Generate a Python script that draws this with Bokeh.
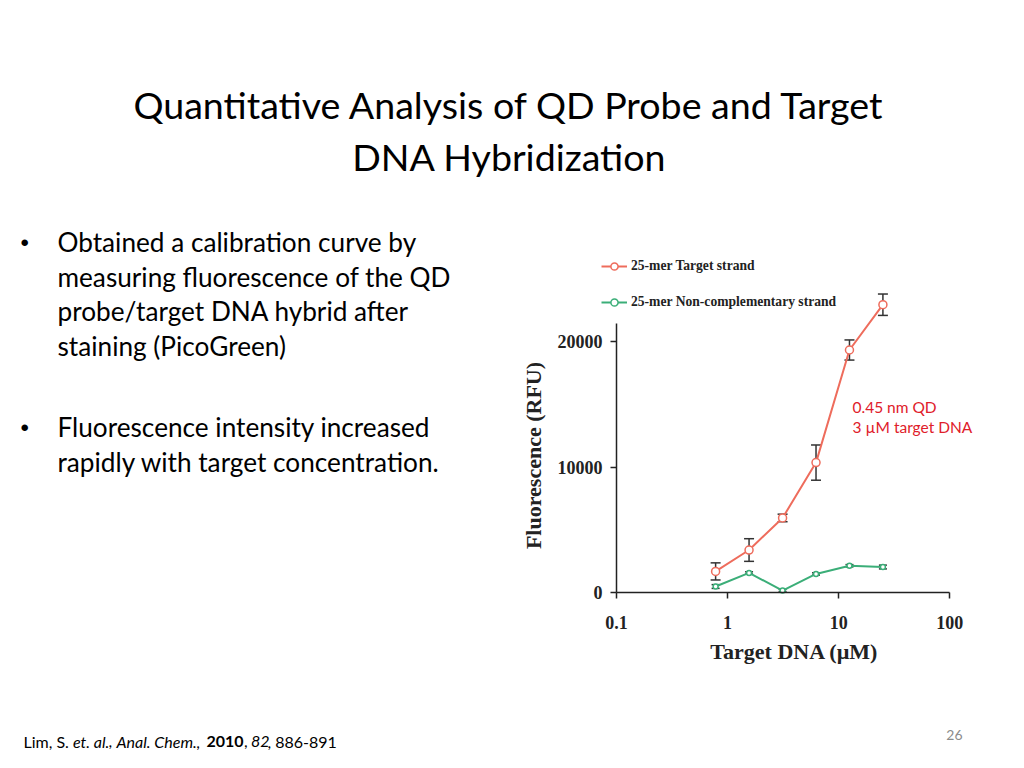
from bokeh.plotting import figure
from bokeh.models import (Label, Legend, LegendItem, Whisker, TeeHead, ColumnDataSource,
                          Range1d, FixedTicker, NumeralTickFormatter, BasicTickFormatter)
from bokeh.embed import file_html
from bokeh.resources import INLINE
import math

# ---------------- data ----------------
conc_uM = [0.78, 1.56, 3.125, 6.25, 12.5, 25.0]
target_rfu = [1700, 3400, 5950, 10350, 19300, 22900]
target_err = [680, 900, 300, 1400, 800, 850]
noncomp_rfu = [500, 1580, 180, 1500, 2150, 2050]
noncomp_err = [150, 90, 90, 90, 90, 150]
x_ticks = [0.1, 1, 10, 100]
y_ticks = [0, 10000, 20000]

title_lines = ["Quantitative Analysis of QD Probe and Target", "DNA Hybridization"]
bullet1 = ["Obtained a calibration curve by", "measuring fluorescence of the QD",
           "probe/target DNA hybrid after", "staining (PicoGreen)"]
bullet2 = ["Fluorescence intensity increased", "rapidly with target concentration."]
note_lines = ["0.45 nm QD", "3 \u00b5M target DNA"]

RED = "#EE6C5C"
GREEN = "#3BAE78"
DARK = "#222222"

# ---------------- layout geometry (pixels) ----------------
W, H = 1008, 752
X0_PX, DECADE_PX = 616.0, 111.1      # pixel of x=0.1, pixels per decade
Y0_PX, PX_PER_UNIT = 592.3, 0.01258  # pixel of y=0, pixels per RFU

x_lo = 10 ** (-1 - X0_PX / DECADE_PX)
x_hi = 10 ** (-1 + (W - X0_PX) / DECADE_PX)
y_lo = -(H - Y0_PX) / PX_PER_UNIT
y_hi = Y0_PX / PX_PER_UNIT

p = figure(width=W, height=H, x_axis_type="log",
           x_range=Range1d(x_lo, x_hi), y_range=Range1d(y_lo, y_hi),
           output_backend="svg", toolbar_location=None,
           min_border_left=0, min_border_right=0, min_border_top=0, min_border_bottom=0)
p.grid.visible = False
p.outline_line_color = None
p.background_fill_color = "white"
p.border_fill_color = "white"

for ax in (p.xaxis[0], p.yaxis[0]):
    ax.axis_line_color = DARK
    ax.axis_line_width = 1.5
    ax.major_tick_line_color = DARK
    ax.major_tick_line_width = 1.5
    ax.major_tick_out = 6
    ax.major_tick_in = 0
    ax.minor_tick_line_color = None
    ax.major_label_text_font = "Liberation Serif"
    ax.major_label_text_font_style = "bold"
    ax.major_label_text_font_size = "18px"
    ax.major_label_text_color = DARK

p.xaxis.ticker = FixedTicker(ticks=x_ticks)
p.xaxis.formatter = NumeralTickFormatter(format="0.[0]")
p.xaxis.major_label_standoff = 17
p.xaxis.bounds = (0.1, 100)
p.xaxis.fixed_location = 0
p.yaxis.ticker = FixedTicker(ticks=y_ticks)
p.yaxis.formatter = BasicTickFormatter(use_scientific=False)
p.yaxis.major_label_standoff = 8
p.yaxis.bounds = (0, 21400)
p.yaxis.fixed_location = 0.1

# error bars
t_src = ColumnDataSource(dict(x=conc_uM,
                              upper=[v + e for v, e in zip(target_rfu, target_err)],
                              lower=[v - e for v, e in zip(target_rfu, target_err)]))
n_src = ColumnDataSource(dict(x=conc_uM,
                              upper=[v + e for v, e in zip(noncomp_rfu, noncomp_err)],
                              lower=[v - e for v, e in zip(noncomp_rfu, noncomp_err)]))
for src, hs in ((t_src, 10), (n_src, 8)):
    w = Whisker(source=src, base="x", upper="upper", lower="lower", dimension="height",
                line_color="#333333", line_width=1.5,
                upper_head=TeeHead(size=hs, line_color="#333333", line_width=1.5),
                lower_head=TeeHead(size=hs, line_color="#333333", line_width=1.5))
    p.add_layout(w)

rl = p.line(conc_uM, target_rfu, line_color=RED, line_width=2)
rs = p.scatter(conc_uM, target_rfu, marker="circle", size=8, fill_color="white",
               line_color=RED, line_width=1.5)
gl = p.line(conc_uM, noncomp_rfu, line_color=GREEN, line_width=2)
gs = p.scatter(conc_uM, noncomp_rfu, marker="circle", size=5, fill_color="white",
               line_color=GREEN, line_width=1.5)

legend = Legend(items=[LegendItem(label="25-mer Target strand", renderers=[rl, rs]),
                       LegendItem(label="25-mer Non-complementary strand", renderers=[gl, gs])],
                location=(601, H - 311), padding=0, margin=0, spacing=18,
                glyph_width=26, glyph_height=18, label_height=18, label_standoff=4,
                border_line_color=None, background_fill_alpha=0,
                label_text_font="Liberation Serif", label_text_font_style="bold",
                label_text_font_size="13.6px", label_text_color=DARK)
p.add_layout(legend)


def add_text(txt, X, Y, size, font="Lato", style="normal", color="#000000",
             align="left", angle=0.0):
    p.add_layout(Label(x=X, y=H - Y, x_units="screen", y_units="screen",
                       text=txt, text_font=font, text_font_size=f"{size}px",
                       text_font_style=style, text_color=color, text_align=align,
                       text_baseline="alphabetic", angle=angle))


# axis titles
add_text("Target DNA (\u00b5M)", 794, 651, 22, font="Liberation Serif", style="bold",
         color=DARK, align="center")
add_text("Fluorescence (RFU)", 533, 455, 22, font="Liberation Serif", style="bold",
         color=DARK, align="center", angle=math.pi / 2)

# annotation
for i, t in enumerate(note_lines):
    add_text(t, 852, 406 + 20 * i, 15.5, color="#E0202A")

# slide title
for i, t in enumerate(title_lines):
    add_text(t, 509, 104 + 51.5 * i, 37.6, align="center")

# bullets
add_text("\u2022", 20, 241.5, 24, font="Liberation Sans")
for i, t in enumerate(bullet1):
    add_text(t, 57, 241.5 + 34.6 * i, 26.2)
add_text("\u2022", 20, 426.5, 24, font="Liberation Sans")
for i, t in enumerate(bullet2):
    add_text(t, 57, 426.5 + 34.6 * i, 26.2)

# footer citation
for txt, X, st in [("Lim, S.", 23, "normal"), ("et. al.", 72.5, "italic"),
                   (",", 108, "normal"), ("Anal. Chem.,", 116, "italic"),
                   ("2010", 206, "bold"), (",", 243.5, "normal"), ("82", 250.5, "italic"),
                   (", 886-891", 267, "normal")]:
    add_text(txt, X, 741, 16, style=st)

add_text("26", 962, 734, 14, color="#8C8C8C", align="right")

open("out.html", "w").write(file_html(p, INLINE))
